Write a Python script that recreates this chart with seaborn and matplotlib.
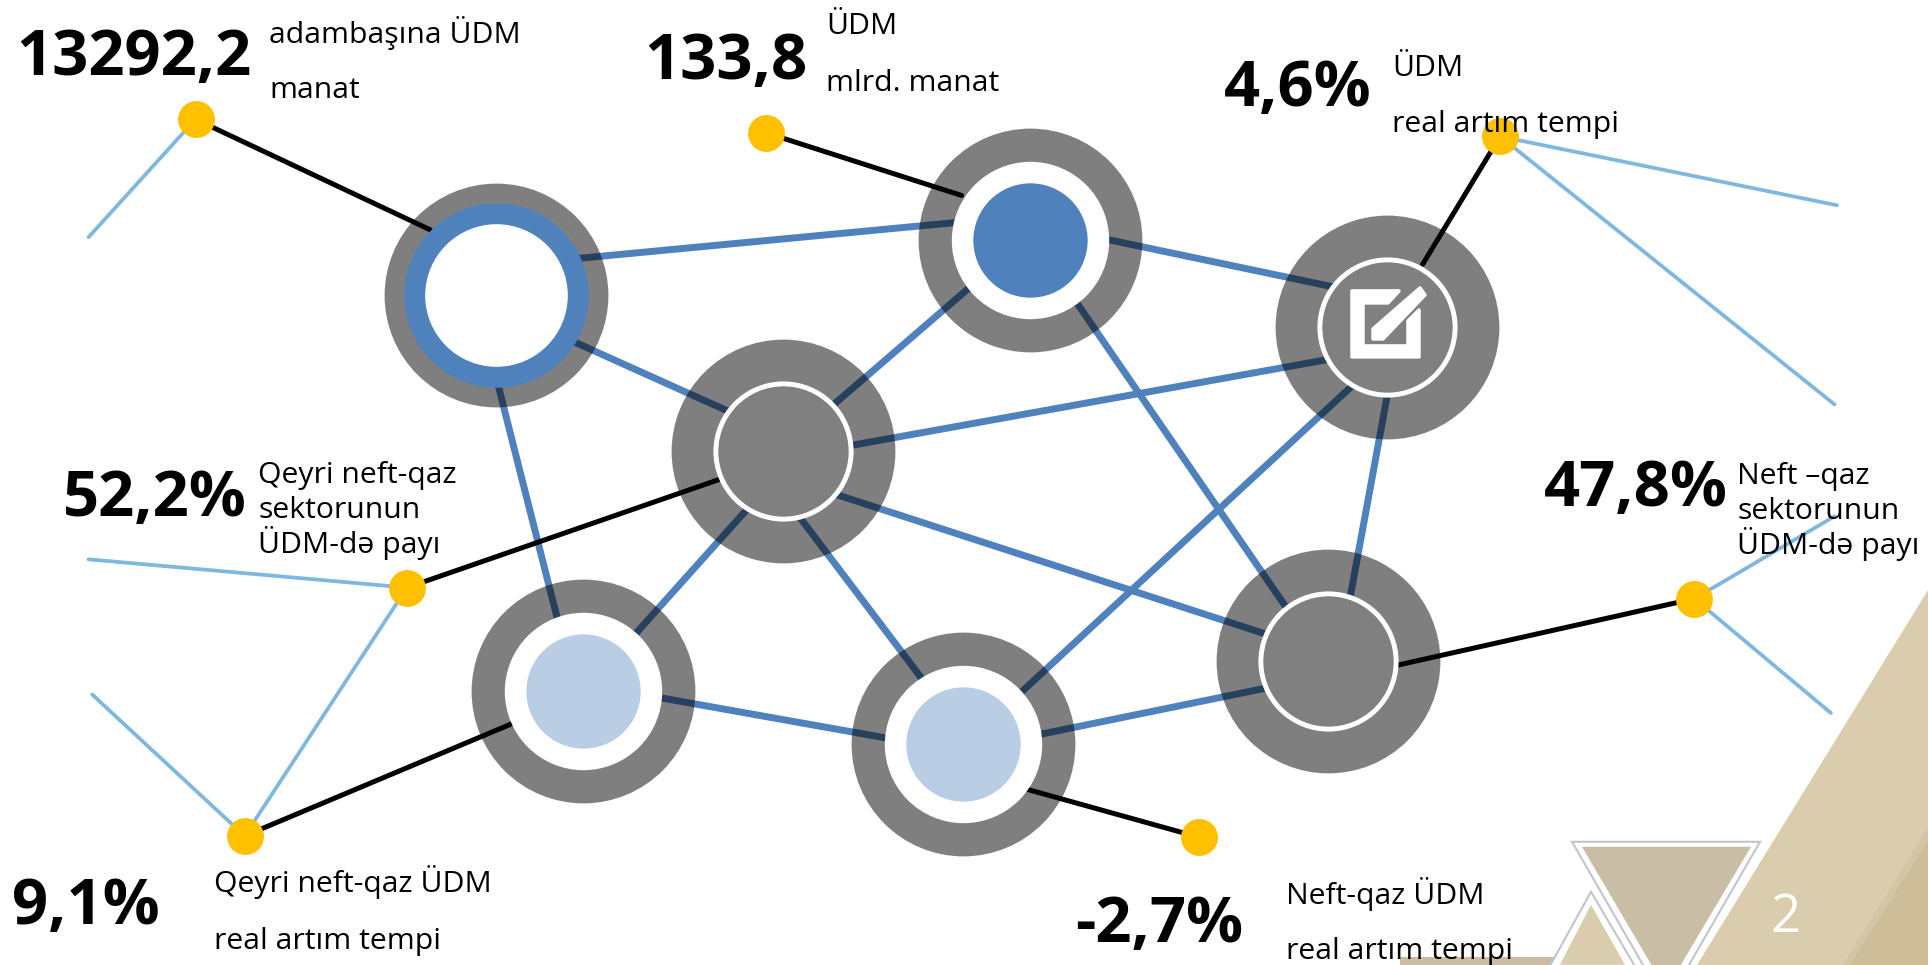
import matplotlib
matplotlib.use("Agg")
import matplotlib.pyplot as plt
from matplotlib.patches import Polygon
import pandas as pd
import seaborn as sns

# ----------------------------------------
# DATA (positions in the shrunk 1568x785 picture)
# ----------------------------------------

node_x = [403, 838, 1128, 637, 1080, 474, 783]
node_y = [240, 195, 266, 367, 538, 562, 605]

# blue lines between the nodes, they stop inside the rings
edge_x0 = [462, 892, 460, 800, 683, 870, 1130, 670, 615, 643, 403, 528, 838, 822]
edge_y0 = [211, 193, 275, 224, 364, 238, 312, 399, 406, 411, 305, 566, 599, 571]
edge_x1 = [788, 1092, 600, 670, 1088, 1048, 1096, 1030, 512, 755, 455, 730, 1038, 1106]
edge_y1 = [180, 235, 338, 336, 291, 497, 497, 516, 521, 559, 510, 602, 558, 308]

dot_x = [159, 623, 1220, 331, 1378, 199, 975]
dot_y = [97, 108, 111, 478, 487, 680, 681]

# where the black line from each dot stops at its node
stop_x = [350, 782, 1157, 585, 1137, 418, 835]
stop_y = [187, 159, 215, 390, 541, 588, 642]

# thin light blue lines
thin_x0 = [159, 1220, 1220, 331, 331, 199, 1378, 1378]
thin_y0 = [97, 111, 111, 478, 478, 680, 487, 487]
thin_x1 = [72, 1494, 1492, 72, 199, 75, 1492, 1489]
thin_y1 = [193, 167, 329, 455, 680, 565, 420, 580]

big_values = ["13292,2", "133,8", "4,6%", "52,2%", "47,8%", "9,1%", "-2,7%"]
big_x = [13, 524, 995, 51, 1256, 10, 874]
big_y = [61, 64, 86, 420, 412, 752, 766]

labels = ["adambaşına ÜDM", "manat", "ÜDM", "mlrd. manat", "ÜDM", "real artım tempi",
          "Qeyri neft-qaz", "sektorunun", "ÜDM-də payı",
          "Neft –qaz", "sektorunun", "ÜDM-də payı",
          "Qeyri neft-qaz ÜDM", "real artım tempi", "Neft-qaz ÜDM", "real artım tempi"]
label_x = [219, 219, 672, 672, 1132, 1132, 210, 210, 210, 1413, 1413, 1413, 174, 174, 1046, 1046]
label_y = [35, 80, 28, 74, 62, 107, 393, 421, 450, 394, 422, 451, 726, 772, 735, 780]

SCALE = 1928 / 1568
BLUE = "#4F81BD"
GRAY = "#808080"
LIGHT = "#B9CDE5"
SKY = "#7FB7DF"
YELLOW = "#FFC000"
TAN = "#D9CDAD"
TAN2 = "#C9BDA5"
TAN3 = "#CDBE99"
EDGE = "#C4C4D0"


def size(r):
    # radius in shrunk pixels to marker area in points^2
    return (2 * r * SCALE * 0.72) ** 2


def full(points):
    # full size pixels to the axes coordinates
    return [(x / SCALE, y / SCALE) for x, y in points]


def discs(idx, r, color, z, alpha=1.0):
    sns.scatterplot(x=[node_x[i] for i in idx], y=[node_y[i] for i in idx], s=size(r),
                    color=color, alpha=alpha, linewidth=0, zorder=z, legend=False, ax=ax)


def segments(x0, y0, x1, y1, color, lw, z):
    rows = []
    for i in range(len(x0)):
        rows.append({"seg": i, "x": x0[i], "y": y0[i]})
        rows.append({"seg": i, "x": x1[i], "y": y1[i]})
    sns.lineplot(data=pd.DataFrame(rows), x="x", y="y", units="seg", estimator=None, sort=False,
                 color=color, linewidth=lw, zorder=z, legend=False, ax=ax)


# ----------------------------------------
# FIGURE
# ----------------------------------------

sns.set_theme(style="white")
plt.rcParams["font.family"] = ["Open Sans", "Noto Sans", "DejaVu Sans"]

fig = plt.figure(figsize=(19.28, 9.65), dpi=100, facecolor="white")
ax = fig.add_axes([0, 0, 1, 1])

# corner decoration
ax.add_patch(Polygon(full([(1928, 590), (1928, 965), (1697, 965)]), color=TAN, lw=0, zorder=1))
ax.add_patch(Polygon(full([(1928, 840), (1928, 965), (1850, 965)]), color=TAN3, lw=0, zorder=1))
ax.add_patch(Polygon(full([(1928, 827), (1928, 840), (1850, 965), (1843, 965)]), color="#D2C6A6", lw=0, zorder=1))
ax.add_patch(Polygon(full([(1400, 957), (1560, 957), (1560, 965), (1400, 965)]), color=TAN2, lw=0, zorder=1))
ax.add_patch(Polygon(full([(1572, 842), (1760, 842), (1666, 1005)]), fc="white", ec=EDGE, lw=1.5, zorder=2))
ax.add_patch(Polygon(full([(1582, 847), (1751, 847), (1666, 990)]), color=TAN2, lw=0, zorder=3))
ax.add_patch(Polygon(full([(1591, 892), (1545, 975), (1640, 975)]), fc="white", ec=EDGE, lw=1.5, zorder=4))
ax.add_patch(Polygon(full([(1591, 905), (1560, 965), (1625, 965)]), color=TAN, lw=0, zorder=5))

# lines under the discs
segments(thin_x0, thin_y0, thin_x1, thin_y1, SKY, 2.7, 6)
segments(edge_x0, edge_y0, edge_x1, edge_y1, BLUE, 5, 7)
segments(dot_x, dot_y, stop_x, stop_y, "black", 3.6, 8)

# discs, the outer one is see-through so the blue lines go dark
all_nodes = list(range(7))
discs(all_nodes, 91, "black", 9, alpha=0.5)
discs([0], 75, BLUE, 10)
discs([0], 58, "white", 11)
discs([1, 5, 6], 64, "white", 10)
discs([1], 46.5, BLUE, 11)
discs([5, 6], 46.5, LIGHT, 11)
discs([2, 3, 4], 57, "white", 10)
discs([2, 3, 4], 53, GRAY, 11)

sns.scatterplot(x=dot_x, y=dot_y, s=size(15), color=YELLOW, linewidth=0, zorder=12, legend=False, ax=ax)

# edit icon in the top right node
box = [(1352, 291), (1399, 291), (1388, 303), (1363, 303), (1363, 346), (1408, 346),
       (1408, 321), (1419, 310), (1419, 357), (1352, 357)]
pen = [(1373, 329), (1420, 288), (1425, 295), (1383, 339), (1373, 339)]
ax.add_patch(Polygon(full(box), fc="white", ec="white", lw=2.5, joinstyle="round", zorder=13))
ax.add_patch(Polygon(full(pen), fc="white", ec="white", lw=2.5, joinstyle="round", zorder=13))

for v, x, y in zip(big_values, big_x, big_y):
    ax.text(x, y, v, fontsize=45.5, fontweight="bold", color="black", va="baseline", ha="left", zorder=14)
for t, x, y in zip(labels, label_x, label_y):
    ax.text(x, y, t, fontsize=21.7, color="black", va="baseline", ha="left", zorder=14)
ax.text(1452, 747, "2", fontsize=38, color="white", va="center", ha="center", zorder=14)

ax.set_xlim(0, 1568)
ax.set_ylim(785, 0)
ax.set_xlabel("")
ax.set_ylabel("")
ax.axis("off")

fig.savefig("out.png", dpi=100)
